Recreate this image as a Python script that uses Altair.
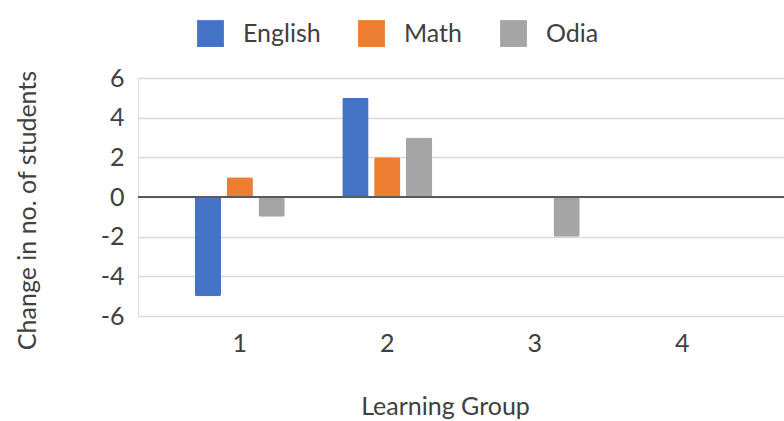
import altair as alt
import pandas as pd

groups = ["1", "2", "3", "4"]
subjects = ["English", "Math", "Odia"]
english = [-5, 5, 0, 0]
math = [1, 2, 0, 0]
odia = [-1, 3, -2, 0]
colors = ["#4472C4", "#ED7D31", "#A5A5A5"]
y_ticks = [-6, -4, -2, 0, 2, 4, 6]

rows = []
for s, vals in zip(subjects, [english, math, odia]):
    for g, v in zip(groups, vals):
        rows.append({"Learning Group": g, "Subject": s, "Change": v})
df = pd.DataFrame(rows)

FONT = "Lato"
FS = 25
TXT = "#404040"

bars = alt.Chart(df).mark_bar(cornerRadius=2).encode(
    x=alt.X("Learning Group:N", sort=groups,
            scale=alt.Scale(paddingInner=0.39, paddingOuter=0.385),
            axis=alt.Axis(labelAngle=0, domain=False, ticks=False,
                          labelFontSize=FS, labelColor=TXT, labelFont=FONT,
                          labelPadding=15, title="Learning Group",
                          titleFont=FONT, titleFontSize=FS, titleFontWeight="normal",
                          titleColor=TXT, titleX=307, titleY=78,
                          titleBaseline="top", titleAlign="center")),
    xOffset=alt.XOffset("Subject:N", sort=subjects,
                        scale=alt.Scale(paddingInner=0.175, paddingOuter=0)),
    y=alt.Y("Change:Q", scale=alt.Scale(domain=[-6, 6], nice=False),
            axis=alt.Axis(values=y_ticks, tickCount=len(y_ticks) + 2,
                          domain=False, ticks=False,
                          grid=True, gridColor="#d9d9d9", gridWidth=1.5,
                          labelOverlap=False, labelExpr="'' + datum.value",
                          labelFontSize=FS, labelColor=TXT, labelFont=FONT,
                          labelPadding=14, title="Change in no. of students",
                          titleFont=FONT, titleFontSize=FS, titleFontWeight="normal",
                          titleColor=TXT, titleX=-111, titleY=132,
                          titleAngle=-90, titleAlign="center",
                          titleBaseline="middle")),
    color=alt.Color("Subject:N", sort=subjects,
                    scale=alt.Scale(domain=subjects, range=colors),
                    legend=alt.Legend(title=None, orient="none", direction="horizontal",
                                      legendX=59, legendY=-58, symbolType="square",
                                      symbolSize=720, symbolStrokeWidth=0,
                                      labelFontSize=FS, labelFont=FONT,
                                      labelColor=TXT, labelOffset=19,
                                      columnPadding=37, padding=0)),
)

zero = alt.Chart(pd.DataFrame({"y": [0]})).mark_rule(color="#5a5a5a", strokeWidth=2).encode(
    y="y:Q"
)

chart = alt.layer(bars, zero).properties(
    width=646, height=238,
    autosize=alt.AutoSizeParams(type="none"),
    padding={"left": 138, "top": 78, "right": 0, "bottom": 105},
).configure_view(stroke=None).configure(background="white")

chart.save("out.html", embed_options={"renderer": "svg", "actions": False})
